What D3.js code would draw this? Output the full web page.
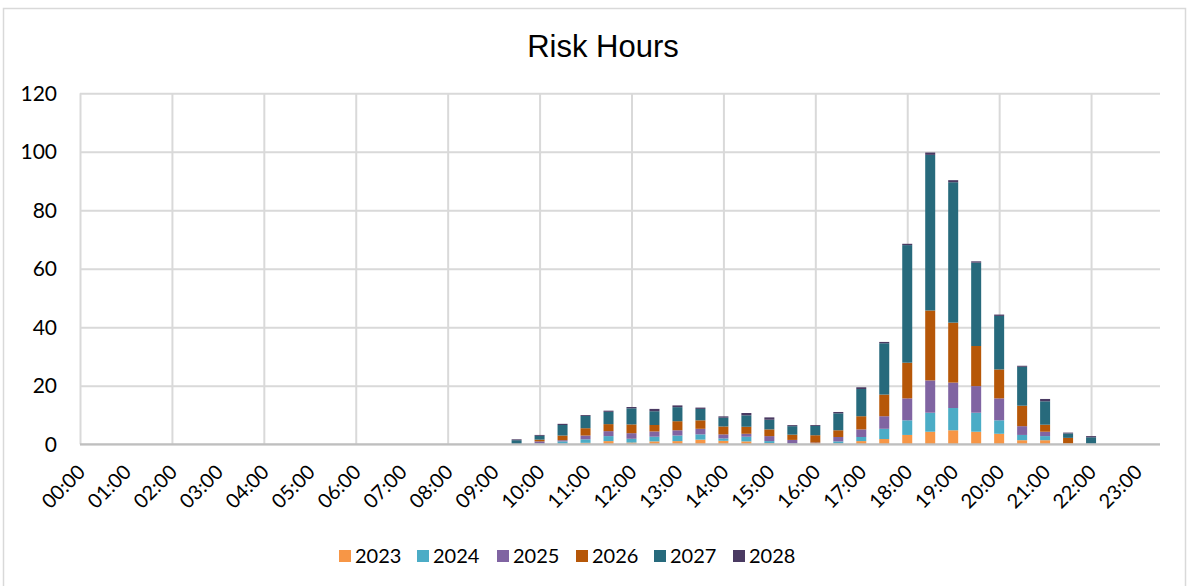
<!DOCTYPE html>
<html>
<head>
<meta charset="utf-8">
<script src="https://cdn.jsdelivr.net/npm/d3@7"></script>
<style>
  html, body { margin: 0; padding: 0; background: #fff; }
  svg { display: block; }
</style>
</head>
<body>
<svg id="chart" width="1188" height="586"></svg>
<script>
// Half-hourly time slots
const categories = [
  "00:00","00:30","01:00","01:30","02:00","02:30","03:00","03:30",
  "04:00","04:30","05:00","05:30","06:00","06:30","07:00","07:30",
  "08:00","08:30","09:00","09:30","10:00","10:30","11:00","11:30",
  "12:00","12:30","13:00","13:30","14:00","14:30","15:00","15:30",
  "16:00","16:30","17:00","17:30","18:00","18:30","19:00","19:30",
  "20:00","20:30","21:00","21:30","22:00","22:30","23:00","23:30"
];

const seriesNames = ["2023", "2024", "2025", "2026", "2027", "2028"];

// Risk hours per slot, one array per year
const v2023 = [0,0,0,0,0,0,0,0, 0,0,0,0,0,0,0,0, 0,0,0,0,0,0.2,0.5,1.1,
  0.6,1.0,1.1,1.6,1.2,1.0,0.4,0, 0.4,0.3,1.1,1.8,3.2,4.3,4.8,4.3,
  3.6,1.4,1.4,0.3,0,0,0,0];
const v2024 = [0,0,0,0,0,0,0,0, 0,0,0,0,0,0,0,0, 0,0,0,0,0.3,0.8,1.2,1.7,
  1.3,1.6,1.9,1.8,0.8,1.6,0.7,0.3, 0,0.7,1.4,3.5,5.0,6.5,7.6,6.5,
  4.6,1.8,1.4,0,0.2,0,0,0];
const v2025 = [0,0,0,0,0,0,0,0, 0,0,0,0,0,0,0,0, 0,0,0,0,0.7,0.4,1.3,1.7,
  1.9,1.8,1.8,1.9,1.4,1.0,1.7,1.2, 0.2,1.5,2.6,4.3,7.5,11.05,8.7,9.1,
  7.5,3.0,1.5,0,0,0,0,0];
const v2026 = [0,0,0,0,0,0,0,0, 0,0,0,0,0,0,0,0, 0,0,0,0,0.6,1.6,2.5,2.4,
  3.0,2.2,3.1,2.9,2.7,2.4,2.3,1.8, 2.5,2.3,4.5,7.4,12.2,23.9,20.5,13.7,
  9.9,7.0,2.4,1.9,0,0,0,0];
const v2027 = [0,0,0,0,0,0,0,0, 0,0,0,0,0,0,0,0, 0,0,0,1.4,1.3,3.6,4.2,4.2,
  5.5,4.7,4.8,3.9,3.0,3.9,3.3,2.9, 3.2,5.8,9.3,17.55,40.2,53.2,48.0,28.5,
  18.3,13.3,8.0,1.5,2.2,0,0,0];
const v2028 = [0,0,0,0,0,0,0,0, 0,0,0,0,0,0,0,0, 0,0,0,0.3,0.3,0.4,0.3,0.4,
  0.45,0.8,0.6,0.45,0.45,0.8,0.8,0.35, 0.3,0.45,0.6,0.45,0.45,0.8,0.7,0.45,
  0.45,0.35,0.8,0.3,0.4,0,0,0];

const seriesColors = ["#F79646", "#4BACC6", "#8064A2", "#B65708", "#276A7C", "#4A3A62"];

const yTicks = [0, 20, 40, 60, 80, 100, 120];
const xLabelSlots = categories.filter((d, i) => i % 2 === 0);
const gridSlots = categories.filter((d, i) => i % 4 === 0);

// Build rows for the stack layout
const allSeries = [v2023, v2024, v2025, v2026, v2027, v2028];
const rows = categories.map((c, i) => {
  const r = { slot: c };
  seriesNames.forEach((s, k) => { r[s] = allSeries[k][i]; });
  return r;
});

const svg = d3.select("#chart");
const W = 1188, H = 586;
const plot = { left: 80, right: 1160, top: 93.3, bottom: 444.3 };
const fontFam = "Lato, 'Open Sans', sans-serif";

svg.append("rect").attr("width", W).attr("height", H).attr("fill", "#fff");
// Chart frame
svg.append("rect")
  .attr("x", 3.5).attr("y", 8.5).attr("width", 1182).attr("height", 600)
  .attr("fill", "none").attr("stroke", "#d9d9d9").attr("stroke-width", 1.5);

const x = d3.scalePoint().domain(categories).range([plot.left, plot.right]).padding(0);
const y = d3.scaleLinear().domain([0, 120]).range([plot.bottom, plot.top]);
const color = d3.scaleOrdinal().domain(seriesNames).range(seriesColors);

// Horizontal gridlines + value labels
const yAxis = svg.append("g")
  .attr("transform", `translate(${plot.left},0)`)
  .call(d3.axisLeft(y).tickValues(yTicks).tickSize(-(plot.right - plot.left)).tickPadding(23).tickFormat(d3.format("d")));
yAxis.select(".domain").remove();
yAxis.selectAll(".tick line").attr("stroke", "#d9d9d9").attr("stroke-width", 2);
yAxis.selectAll(".tick text")
  .attr("font-family", fontFam).attr("font-size", 21).attr("fill", "#000");

// Vertical gridlines every two hours
const xGrid = svg.append("g")
  .attr("transform", `translate(0,${plot.bottom})`)
  .call(d3.axisBottom(x).tickValues(gridSlots).tickSize(-(plot.bottom - plot.top)).tickFormat(""));
xGrid.select(".domain").remove();
xGrid.selectAll(".tick line").attr("stroke", "#d9d9d9").attr("stroke-width", 2);

// Stacked bars
const stacked = d3.stack().keys(seriesNames)(rows);
const barW = 10;
svg.append("g").selectAll("g")
  .data(stacked)
  .join("g")
  .attr("fill", d => color(d.key))
  .selectAll("rect")
  .data(d => d.filter(p => p[1] - p[0] > 0))
  .join("rect")
  .attr("x", p => x(p.data.slot) - barW / 2)
  .attr("width", barW)
  .attr("y", p => y(p[1]))
  .attr("height", p => y(p[0]) - y(p[1]));

// Category axis line
svg.append("line")
  .attr("x1", plot.left).attr("x2", plot.right)
  .attr("y1", plot.bottom).attr("y2", plot.bottom)
  .attr("stroke", "#bfbfbf").attr("stroke-width", 2);

// Hour labels, rotated
const xAxis = svg.append("g")
  .attr("transform", `translate(0,${plot.bottom})`)
  .call(d3.axisBottom(x).tickValues(xLabelSlots).tickSize(0));
xAxis.select(".domain").remove();
xAxis.selectAll(".tick text")
  .attr("font-family", fontFam).attr("font-size", 20).attr("fill", "#000")
  .attr("text-anchor", "end")
  .attr("dy", null).attr("y", null)
  .attr("transform", "translate(6,29) rotate(-45)");

// Title
svg.append("text")
  .attr("x", 603).attr("y", 57)
  .attr("text-anchor", "middle")
  .attr("font-family", "'Liberation Sans', Arial, sans-serif")
  .attr("font-size", 31).attr("fill", "#000")
  .text("Risk Hours");

// Legend
const legendX = [339, 417, 497, 576, 654, 733];
const legend = svg.append("g");
seriesNames.forEach((s, i) => {
  const g = legend.append("g").attr("transform", `translate(${legendX[i]},550)`);
  g.append("rect").attr("width", 12).attr("height", 12).attr("fill", color(s));
  g.append("text").attr("x", 16).attr("y", 13)
    .attr("font-family", fontFam).attr("font-size", 20).attr("fill", "#000")
    .text(s);
});
</script>
</body>
</html>
